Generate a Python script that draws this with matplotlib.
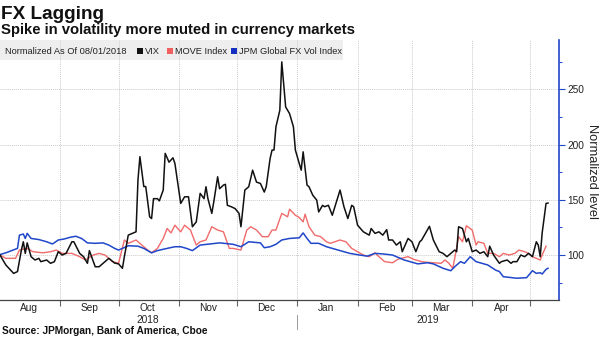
import matplotlib
matplotlib.use("Agg")
import matplotlib.pyplot as plt
from matplotlib.patches import Rectangle
import pandas as pd

# normalized levels, 100 = 08/01/2018
vix_dates = ["2018-08-01", "2018-08-04", "2018-08-08", "2018-08-10", "2018-08-12", "2018-08-13",
             "2018-08-14", "2018-08-15", "2018-08-17", "2018-08-19", "2018-08-21", "2018-08-22",
             "2018-08-25", "2018-08-27", "2018-08-29", "2018-08-31", "2018-09-02", "2018-09-04",
             "2018-09-07", "2018-09-08", "2018-09-11", "2018-09-13", "2018-09-15", "2018-09-16",
             "2018-09-19", "2018-09-21", "2018-09-24", "2018-09-26", "2018-09-29", "2018-10-01",
             "2018-10-03", "2018-10-04", "2018-10-06", "2018-10-10", "2018-10-11", "2018-10-12",
             "2018-10-14", "2018-10-15", "2018-10-17", "2018-10-18", "2018-10-19", "2018-10-21",
             "2018-10-22", "2018-10-24", "2018-10-25", "2018-10-27", "2018-10-29", "2018-10-30",
             "2018-11-02", "2018-11-04", "2018-11-06", "2018-11-08", "2018-11-10", "2018-11-12",
             "2018-11-14", "2018-11-15", "2018-11-16", "2018-11-18", "2018-11-19", "2018-11-21",
             "2018-11-22", "2018-11-24", "2018-11-25", "2018-11-26", "2018-11-28", "2018-11-30",
             "2018-12-02", "2018-12-03", "2018-12-05", "2018-12-07", "2018-12-09", "2018-12-11",
             "2018-12-13", "2018-12-15", "2018-12-16", "2018-12-18", "2018-12-19", "2018-12-20",
             "2018-12-21", "2018-12-23", "2018-12-24", "2018-12-26", "2018-12-28", "2018-12-30",
             "2018-12-31", "2019-01-03", "2019-01-04", "2019-01-06", "2019-01-07", "2019-01-09",
             "2019-01-11", "2019-01-12", "2019-01-14", "2019-01-15", "2019-01-17", "2019-01-19",
             "2019-01-23", "2019-01-25", "2019-01-27", "2019-01-29", "2019-01-30", "2019-02-01",
             "2019-02-04", "2019-02-07", "2019-02-08", "2019-02-10", "2019-02-12", "2019-02-14",
             "2019-02-16", "2019-02-17", "2019-02-19", "2019-02-21", "2019-02-23", "2019-02-24",
             "2019-02-27", "2019-03-01", "2019-03-03", "2019-03-05", "2019-03-06", "2019-03-10",
             "2019-03-12", "2019-03-15", "2019-03-17", "2019-03-19", "2019-03-21", "2019-03-23",
             "2019-03-24", "2019-03-25", "2019-03-27", "2019-03-29", "2019-03-30", "2019-04-01",
             "2019-04-03", "2019-04-05", "2019-04-07", "2019-04-09", "2019-04-10", "2019-04-12",
             "2019-04-15", "2019-04-16", "2019-04-19", "2019-04-21", "2019-04-22", "2019-04-24",
             "2019-04-26", "2019-04-28", "2019-04-30", "2019-05-02", "2019-05-04", "2019-05-05",
             "2019-05-06", "2019-05-07", "2019-05-09", "2019-05-10"]
vix = [100, 91, 83.4, 85, 104.5, 112,
       101.5, 111, 98.5, 95.5, 97, 94,
       95.5, 92.5, 94, 103, 100, 101.5,
       112, 112, 101.5, 98.5, 92.5, 104,
       89.4, 89.4, 94, 97, 92.7, 92,
       88, 98.5, 118, 121, 168, 189,
       162, 162, 134.6, 133, 151, 151,
       149, 158.8, 192, 184, 188, 183,
       146.7, 152.7, 152.7, 125.6, 130, 155.8,
       151, 161.8, 151, 137.7, 148, 170.8,
       160, 163.3, 164, 145, 143.7, 142,
       137.7, 125.6, 158.8, 161.8, 176.8, 166,
       164.8, 157, 161.8, 187.4, 195, 195,
       216, 231, 274.8, 234, 228, 216,
       195, 176.8, 193.4, 163.3, 161.8, 154,
       149.7, 139, 145, 143.7, 145, 136,
       158.8, 143.7, 133, 145, 143.7, 127,
       121, 118, 124, 119.6, 121, 118,
       123, 113.6, 113.6, 109, 112, 103,
       115, 112, 103, 112, 113.6, 126,
       113.6, 103, 101.5, 98.5, 101.5, 104.5,
       103, 125.6, 124, 112, 115, 103,
       104.5, 101.5, 103, 98.5, 108, 100,
       92.5, 94, 95.5, 92.5, 94, 94,
       100, 98.5, 101.5, 98.5, 112, 109,
       98.5, 120, 146.7, 147]

move_dates = ["2018-08-01", "2018-08-04", "2018-08-09", "2018-08-11", "2018-08-15", "2018-08-18",
              "2018-08-23", "2018-08-27", "2018-08-30", "2018-09-02", "2018-09-07", "2018-09-11",
              "2018-09-14", "2018-09-18", "2018-09-21", "2018-09-24", "2018-09-28", "2018-10-01",
              "2018-10-04", "2018-10-06", "2018-10-10", "2018-10-13", "2018-10-16", "2018-10-18",
              "2018-10-21", "2018-10-24", "2018-10-26", "2018-10-28", "2018-10-30", "2018-11-02",
              "2018-11-04", "2018-11-07", "2018-11-10", "2018-11-12", "2018-11-15", "2018-11-18",
              "2018-11-21", "2018-11-24", "2018-11-27", "2018-11-29", "2018-12-03", "2018-12-06",
              "2018-12-08", "2018-12-11", "2018-12-14", "2018-12-17", "2018-12-19", "2018-12-21",
              "2018-12-24", "2018-12-27", "2018-12-28", "2018-12-31", "2019-01-02", "2019-01-04",
              "2019-01-05", "2019-01-07", "2019-01-10", "2019-01-13", "2019-01-16", "2019-01-18",
              "2019-01-23", "2019-01-26", "2019-01-29", "2019-02-01", "2019-02-04", "2019-02-07",
              "2019-02-10", "2019-02-12", "2019-02-15", "2019-02-19", "2019-02-22", "2019-02-27",
              "2019-03-02", "2019-03-06", "2019-03-09", "2019-03-12", "2019-03-16", "2019-03-18",
              "2019-03-20", "2019-03-22", "2019-03-23", "2019-03-25", "2019-03-27", "2019-03-29",
              "2019-04-01", "2019-04-03", "2019-04-04", "2019-04-07", "2019-04-09", "2019-04-12",
              "2019-04-15", "2019-04-17", "2019-04-20", "2019-04-23", "2019-04-25", "2019-04-28",
              "2019-04-30", "2019-05-02", "2019-05-06", "2019-05-07", "2019-05-09"]
move = [100, 97, 97, 104.5, 106, 103,
        102, 103, 104.5, 101.5, 101.5, 98.5,
        95.5, 100, 101.5, 100, 94, 92.5,
        113.6, 110.6, 113.6, 109, 104.5, 102,
        106, 115, 124, 120, 127, 121,
        127, 122.6, 109, 112, 113.6, 125.6,
        122.6, 121, 106, 106, 104.5, 122.6,
        125.6, 122.6, 116.6, 116.6, 122.6, 122.6,
        137.7, 134.6, 141.5, 136, 134, 130,
        137, 125.6, 118, 116.6, 112, 110.6,
        113.6, 112, 106, 103, 100, 98.5,
        102, 98.5, 94, 93, 96.4, 98.5,
        96, 94, 93.4, 93, 92.5, 95.5,
        92.5, 88, 97, 116.6, 112, 126.5,
        122.6, 109, 112, 110.6, 101.5, 101.5,
        98.5, 101.5, 100, 101.5, 104.5, 103,
        101.5, 98.5, 95.5, 100, 108]

fx_dates = ["2018-08-01", "2018-08-04", "2018-08-10", "2018-08-11", "2018-08-13", "2018-08-14",
            "2018-08-15", "2018-08-17", "2018-08-21", "2018-08-25", "2018-08-28", "2018-08-31",
            "2018-09-03", "2018-09-06", "2018-09-09", "2018-09-12", "2018-09-15", "2018-09-19",
            "2018-09-23", "2018-09-26", "2018-09-29", "2018-10-01", "2018-10-05", "2018-10-06",
            "2018-10-11", "2018-10-14", "2018-10-18", "2018-10-21", "2018-10-26", "2018-10-30",
            "2018-11-02", "2018-11-05", "2018-11-08", "2018-11-12", "2018-11-17", "2018-11-22",
            "2018-11-29", "2018-12-03", "2018-12-07", "2018-12-13", "2018-12-15", "2018-12-18",
            "2018-12-21", "2018-12-24", "2018-12-28", "2019-01-02", "2019-01-04", "2019-01-06",
            "2019-01-08", "2019-01-12", "2019-01-16", "2019-01-22", "2019-01-28", "2019-02-02",
            "2019-02-06", "2019-02-10", "2019-02-14", "2019-02-19", "2019-02-25", "2019-03-04",
            "2019-03-09", "2019-03-12", "2019-03-17", "2019-03-21", "2019-03-23", "2019-03-26",
            "2019-03-28", "2019-03-31", "2019-04-03", "2019-04-09", "2019-04-13", "2019-04-15",
            "2019-04-17", "2019-04-20", "2019-04-24", "2019-04-29", "2019-05-02", "2019-05-04",
            "2019-05-06", "2019-05-07", "2019-05-09", "2019-05-10"]
fx = [100.4, 102, 106, 118, 119, 115,
      119.6, 115, 114, 112, 110, 113.6,
      114.5, 116, 117, 115, 111, 110.6,
      111, 109, 106, 104.5, 107.5, 108.4,
      108, 106, 102, 104, 106, 107.5,
      107.5, 106, 104, 109, 110, 111,
      109.7, 107.5, 112, 111, 106.6, 107.5,
      109.7, 113.6, 115, 115.6, 120, 115,
      110.6, 110.6, 107.5, 104.5, 101.5, 100,
      99, 101.5, 101, 100, 95.5, 92,
      93, 92, 88, 85.8, 89.4, 94,
      92.5, 98.5, 94, 91, 86.4, 85,
      80.4, 79.8, 79, 79.5, 85.8, 83.4,
      84, 82.8, 87, 88]

month_labels = ["Aug", "Sep", "Oct", "Nov", "Dec", "Jan", "Feb", "Mar", "Apr"]
label_months = ["2018-08", "2018-09", "2018-10", "2018-11", "2018-12",
                "2019-01", "2019-02", "2019-03", "2019-04"]
y_ticks = [100, 150, 200, 250]
y_minor = [75, 125, 175, 225, 275]

W, H = 600, 338
plt.rcParams["font.family"] = ["Liberation Sans", "DejaVu Sans"]
fig = plt.figure(figsize=(W / 100, H / 100), dpi=100)


def fx_(x):
    return x / W


def fy_(y):
    return 1 - y / H


# plot area in pixels: left 0, right 559, top 40, bottom 300
ax = fig.add_axes([0, fy_(300), fx_(559), (300 - 40) / H])

black = "#111111"
red = "#f06b6b"
blue = "#1f47c9"

ax.plot(pd.to_datetime(move_dates), move, color=red, lw=1.0, zorder=3)
ax.plot(pd.to_datetime(fx_dates), fx, color=blue, lw=1.1, zorder=4)
ax.plot(pd.to_datetime(vix_dates), vix, color=black, lw=1.1, zorder=5)

ax.set_xlim(pd.Timestamp("2018-08-01"), pd.Timestamp("2019-05-15 16:00"))
ax.set_ylim(59.3, 294.6)

# month boundaries get ticks + grid, labels sit mid-month
major = pd.date_range("2018-09-01", "2019-05-01", freq="MS")
minor = [pd.Timestamp(m + "-16") for m in label_months]
ax.set_xticks(major)
ax.set_xticklabels([])
ax.set_xticks(minor, minor=True)
ax.set_xticklabels(month_labels, minor=True)
ax.tick_params(axis="x", which="major", length=4, color="#666666", width=0.8)
ax.tick_params(axis="x", which="minor", length=0, pad=2, labelsize=7.3, labelcolor="#222222")

ax.yaxis.tick_right()
ax.set_yticks(y_ticks)
ax.set_yticks(y_minor, minor=True)
ax.tick_params(axis="y", which="major", length=4, color=blue, width=0.8, pad=2,
               labelsize=7.3, labelcolor="#222222")
ax.tick_params(axis="y", which="minor", length=2, color=blue, width=0.7)

for s in ["left", "top"]:
    ax.spines[s].set_visible(False)
ax.spines["right"].set_color(blue)
ax.spines["right"].set_linewidth(1.2)
ax.spines["bottom"].set_color("#444444")
ax.spines["bottom"].set_linewidth(0.9)

ax.set_axisbelow(True)
ax.grid(True, which="major", color="#cccccc", linestyle=(0, (1, 1)), linewidth=0.7)

# axis title on the right, reading downwards
fig.text(fx_(592), fy_(171), "Normalized level", rotation=270, fontsize=9.3,
         ha="center", va="center", color="#222222")

# legend strip
ax.add_patch(Rectangle((0, 1 - 20 / 260), 343 / 559, 20 / 260, transform=ax.transAxes,
                       facecolor="#eeeeee", edgecolor="none", zorder=0.3))
ly = fy_(51)
fig.text(fx_(5), ly, "Normalized As Of 08/01/2018", fontsize=6.7, va="center", color="#222222")
for x0, col, lab in [(137, black, "VIX"), (167, "#f06060", "MOVE Index"),
                     (231, "#1530c0", "JPM Global FX Vol Index")]:
    fig.patches.append(Rectangle((fx_(x0), fy_(54)), fx_(6), 6 / H, transform=fig.transFigure,
                                 facecolor=col, edgecolor="none"))
    fig.text(fx_(x0 + 8), ly, lab, fontsize=6.7, va="center", color="#222222")

# year row
fig.text(fx_(148), fy_(320), "2018", fontsize=7.3, ha="center", va="center", color="#222222")
fig.text(fx_(428), fy_(320), "2019", fontsize=7.3, ha="center", va="center", color="#222222")
fig.add_artist(plt.Line2D([fx_(297), fx_(297)], [fy_(315), fy_(329)], color="#999999", lw=0.7))

fig.text(fx_(1), fy_(19), "FX Lagging", fontsize=13.7, fontweight="bold", va="baseline",
         color="#111111")
fig.text(fx_(1), fy_(34), "Spike in volatility more muted in currency markets", fontsize=10.7,
         fontweight="bold", va="baseline", color="#111111")
fig.text(fx_(2), fy_(331), "Source: JPMorgan, Bank of America, Cboe", fontsize=7.3,
         fontweight="bold", va="center", color="#111111")

fig.savefig("out.png", dpi=100)
